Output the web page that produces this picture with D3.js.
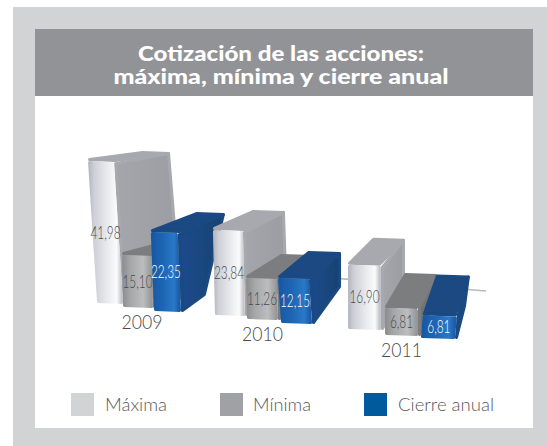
<!DOCTYPE html>
<html><head><meta charset="utf-8">
<script src="https://cdn.jsdelivr.net/npm/d3@7"></script>
<style>html,body{margin:0;padding:0;background:#fff}svg{display:block}</style>
</head><body><svg id="c" width="547" height="446"></svg>
<script>
// data
const categories = ["2009", "2010", "2011"];
const maxima = [41.98, 23.84, 16.90];
const minimas = [15.10, 11.26, 6.81];
const cierre = [22.35, 12.15, 6.81];
const seriesNames = ["Máxima", "Mínima", "Cierre anual"];
const titleLines = ["Cotización de las acciones:", "máxima, mínima y cierre anual"];

// perspective calibration, per bar slot
const slotIdx = d3.range(9);
const cal = r => d3.scaleLinear().domain(slotIdx).range(r);
const leftS = cal([97,123,154,215,247,281,348,385,421]);
const widthS = cal([26,30,27,30,31,31,33,33,34]);
const baseS = cal([303,307,311,315,319,323,329,335,338]);
const unitS = cal([3.38,3.44,3.53,3.57,3.64,3.7,3.8,3.96,3.3]);
const leanS = cal([-.063,-.02,-.04,-.024,-.024,-.066,0,0,.08]);
const depthXS = cal([56,52,47,42,37,32,24,19,13]);
const depthYS = cal([-10,-16,-20,-20,-24,-27,-27,-35,-41]);
const backHS = cal([1,1,1.05,.9,.9,.8,.9,.9,1.3]);
const backLS = cal([.08,0,-.24,.03,0,0,0,0,-.17]);

const svg = d3.select("#c");
const FONT = "Lato, 'Open Sans', sans-serif";
const defs = svg.append("defs");
const grad = (id, stops) => {
  const g = defs.append("linearGradient").attr("id", id);
  stops.forEach(([o, c]) => g.append("stop").attr("offset", o).attr("stop-color", c));
};
grad("f0", [[0,"#b9bbc4"],[.15,"#cfd0d8"],[.55,"#e9eaee"],[.85,"#fbfbfc"],[1,"#c4c5cb"]]);
grad("f1", [[0,"#8f9091"],[.25,"#a6a7a8"],[.7,"#bcbdbe"],[1,"#969798"]]);
grad("f2", [[0,"#1858a6"],[.35,"#1c64b2"],[.8,"#2a78c8"],[1,"#1a5aa6"]]);
grad("s0", [[0,"#a5a6ac"],[1,"#9c9da3"]]);
grad("s1", [[0,"#6f7072"],[1,"#757678"]]);
grad("s2", [[0,"#1a4b8c"],[1,"#194272"]]);
defs.append("filter").attr("id","soft").append("feGaussianBlur").attr("stdDeviation",.5);

const topColor = ["#a8a9af","#7c7d7f","#1a4a82"];
const labelColor = ["#4a4a4c","#4a4a4c","#ffffff"];
const swatch = ["#d1d3d4","#a0a1a4","#005a9c"];

// frame
svg.append("rect").attr("x",13).attr("y",7).attr("width",534).attr("height",439).attr("fill","#d1d3d4");
svg.append("rect").attr("x",35).attr("y",29).attr("width",498).attr("height",399).attr("fill","#fff");
svg.append("rect").attr("x",35).attr("y",29).attr("width",498).attr("height",67).attr("fill","#929396");
svg.selectAll("text.title").data(titleLines).join("text").attr("class","title")
  .attr("x",281).attr("y",(d,i)=>61+i*23).attr("text-anchor","middle")
  .attr("font-family",FONT).attr("font-weight",900).attr("font-size",21).attr("fill","#fff")
  .attr("textLength",(d,i)=>[286,335][i]).attr("lengthAdjust","spacingAndGlyphs")
  .text(d=>d);

// floor line
svg.append("path").attr("d",d3.line()([[250,271],[486,291]])).attr("stroke","#b9babc")
  .attr("stroke-width",1.6).attr("fill","none");

// bars
const bars = [];
categories.forEach((c,g)=>[maxima,minimas,cierre].forEach((arr,s)=>
  bars.push({k:g*3+s,s,g,v:arr[g]})));
const inset = (pts,n) => {
  const cx=d3.mean(pts,p=>p[0]), cy=d3.mean(pts,p=>p[1]);
  return pts.map(([x,y])=>[x+Math.sign(cx-x)*n, y+Math.sign(cy-y)*n]);
};
const poly = (pts,n) => d3.line()(inset(pts,n))+"Z";
const geom = d => {
  const H = unitS(d.k)*d.v, xl = leftS(d.k), w = widthS(d.k), yb = baseS(d.k);
  const lean = leanS(d.k)*H, dx = depthXS(d.k), dy = depthYS(d.k);
  const bl=[xl,yb], br=[xl+w,yb+1], tl=[xl+lean,yb-H], tr=[xl+lean+w,yb-H+1];
  const btr=[tr[0]+dx,tr[1]+dy], btl=[tl[0]+dx,tl[1]+dy];
  const bbr=[btr[0]+backLS(d.k)*H, btr[1]+backHS(d.k)*H];
  return {bl,br,tl,tr,btr,btl,bbr,H};
};
const gBars = svg.append("g").attr("filter","url(#soft)");
const barG = gBars.selectAll("g").data(bars).join("g").attr("stroke-linejoin","round");
barG.append("path").attr("d",d=>{const p=geom(d);return poly([p.tr,p.btr,p.bbr,p.br],1.5);})
  .attr("fill",d=>`url(#s${d.s})`).attr("stroke",d=>topColor[d.s]).attr("stroke-width",3);
barG.append("path").attr("d",d=>{const p=geom(d);return poly([p.tl,p.btl,p.btr,p.tr],1.5);})
  .attr("fill",d=>topColor[d.s]).attr("stroke",d=>topColor[d.s]).attr("stroke-width",3);
barG.append("path").attr("d",d=>{const p=geom(d);return poly([p.bl,p.tl,p.tr,p.br],1.5);})
  .attr("fill",d=>`url(#f${d.s})`).attr("stroke",d=>`url(#f${d.s})`).attr("stroke-width",3);

// value labels
svg.selectAll("text.val").data(bars).join("text").attr("class","val")
  .attr("transform",d=>{const p=geom(d);
    const cx=(p.tl[0]+p.tr[0]+p.bl[0]+p.br[0])/4, cy=(p.tl[1]+p.bl[1])/2;
    return `translate(${cx},${cy+6.5}) scale(.64,1)`;})
  .attr("text-anchor","middle").attr("font-family",FONT).attr("font-weight",300)
  .attr("font-size",18.5).attr("fill",d=>labelColor[d.s])
  .text(d=>d3.format(".2f")(d.v).replace(".",","));

// year labels
svg.selectAll("text.yr").data(categories).join("text").attr("class","yr")
  .attr("x",(d,i)=>leftS(i*3+1)+widthS(i*3+1)/2+(i===0?4:0))
  .attr("y",(d,i)=>baseS(i*3+1)+22).attr("text-anchor","middle")
  .attr("font-family",FONT).attr("font-weight",300).attr("font-size",20.5).attr("fill","#4a4a4c")
  .attr("textLength",41).attr("lengthAdjust","spacingAndGlyphs")
  .text(d=>d);

// legend
const legX = d3.scaleOrdinal().domain(seriesNames).range([71,220,364]);
const legW = d3.scaleOrdinal().domain(seriesNames).range([62,58,96]);
const leg = svg.selectAll("g.leg").data(seriesNames).join("g").attr("class","leg")
  .attr("transform",d=>`translate(${legX(d)},393)`);
leg.append("rect").attr("width",23).attr("height",23).attr("fill",(d,i)=>swatch[i]);
leg.append("text").attr("x",(d,i)=>[34,33,34][i]).attr("y",18)
  .attr("font-family",FONT).attr("font-weight",300).attr("font-size",18).attr("fill","#58595b")
  .attr("textLength",d=>legW(d)).attr("lengthAdjust","spacingAndGlyphs").text(d=>d);
</script></body></html>
